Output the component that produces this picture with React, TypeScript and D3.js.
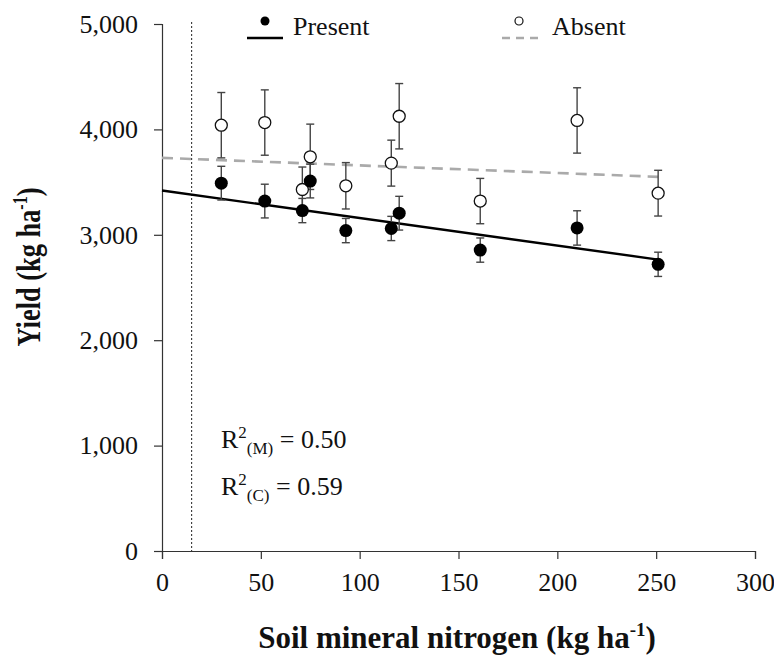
import React, { useRef, useEffect } from 'react';
import * as d3 from 'd3';

// soil mineral N (kg/ha) for each site
const nitrogen = [30, 52, 71, 75, 93, 116, 120, 161, 210, 251];

const presentYield = [3490, 3320, 3230, 3510, 3040, 3060, 3205, 2855, 3065, 2720];
const presentErr = [160, 160, 115, 160, 115, 115, 160, 115, 163, 115];

const absentYield = [4040, 4065, 3430, 3740, 3465, 3680, 4125, 3320, 4085, 3395];
const absentErr = [310, 310, 213, 310, 220, 218, 310, 215, 310, 217];

// fitted lines (end points)
const fitX = [0, 251];
const presentFit = [3420, 2765];
const absentFit = [3730, 3550];

const thresholdN = 15;

const xTicks = [0, 50, 100, 150, 200, 250, 300];
const yTicks = [0, 1000, 2000, 3000, 4000, 5000];

const FONT = '"Liberation Serif", "Times New Roman", serif';

const App = () => {
  const xAxisRef = useRef<SVGGElement>(null);
  const yAxisRef = useRef<SVGGElement>(null);

  const width = 774;
  const height = 655;
  const margin = { top: 24, right: 19, bottom: 104, left: 162 };

  const x = d3.scaleLinear()
    .domain([0, 300])
    .range([margin.left, width - margin.right]);

  const y = d3.scaleLinear()
    .domain([0, 5000])
    .range([height - margin.bottom, margin.top]);

  useEffect(() => {
    const xa = d3.select(xAxisRef.current);
    xa.selectAll('*').remove();
    xa.call(d3.axisBottom(x).tickValues(xTicks).tickSize(8).tickPadding(14).tickFormat(d3.format('d')) as any);
    xa.select('.domain').attr('stroke', '#333').attr('stroke-width', 1.2);
    xa.selectAll('.tick line').attr('stroke', '#333').attr('stroke-width', 1.2);
    xa.selectAll('.tick text')
      .attr('font-family', FONT).attr('font-size', 26).attr('fill', '#111');

    const ya = d3.select(yAxisRef.current);
    ya.selectAll('*').remove();
    ya.call(d3.axisLeft(y).tickValues(yTicks).tickSize(8).tickPadding(16).tickFormat(d3.format(',')) as any);
    ya.select('.domain').attr('stroke', '#333').attr('stroke-width', 1.2);
    ya.selectAll('.tick line').attr('stroke', '#333').attr('stroke-width', 1.2);
    ya.selectAll('.tick text')
      .attr('font-family', FONT).attr('font-size', 26).attr('fill', '#111');
  }, []);

  const line = d3.line<number>()
    .x((_, i) => x(fitX[i]));

  const errorBars = (vals: number[], errs: number[], color: string) =>
    nitrogen.map((n, i) => {
      const cx = x(n);
      const top = y(vals[i] + errs[i]);
      const bot = y(vals[i] - errs[i]);
      return (
        <g key={i} stroke={color} strokeWidth={1.4}>
          <line x1={cx} x2={cx} y1={top} y2={bot} />
          <line x1={cx - 4} x2={cx + 4} y1={top} y2={top} />
          <line x1={cx - 4} x2={cx + 4} y1={bot} y2={bot} />
        </g>
      );
    });

  return (
    <svg width={width} height={height} style={{ position: 'absolute', left: 0, top: 0, background: '#fff' }}>
      {/* threshold */}
      <line x1={x(thresholdN)} x2={x(thresholdN)} y1={y(5000) - 2} y2={y(0)}
        stroke="#222" strokeWidth={1} strokeDasharray="2,2" />

      <g ref={xAxisRef} transform={`translate(0,${height - margin.bottom})`} />
      <g ref={yAxisRef} transform={`translate(${margin.left},0)`} />

      {/* fitted lines */}
      <path d={line.y(d => y(d))(absentFit) || ''} fill="none" stroke="#aaa" strokeWidth={2.6} strokeDasharray="11,7" />
      <path d={line.y(d => y(d))(presentFit) || ''} fill="none" stroke="#000" strokeWidth={2.4} />

      {errorBars(absentYield, absentErr, '#444')}
      {errorBars(presentYield, presentErr, '#444')}

      {nitrogen.map((n, i) => (
        <circle key={'a' + i} cx={x(n)} cy={y(absentYield[i])} r={6} fill="#fff" stroke="#111" strokeWidth={1.3} />
      ))}
      {nitrogen.map((n, i) => (
        <circle key={'p' + i} cx={x(n)} cy={y(presentYield[i])} r={6.5} fill="#000" />
      ))}

      {/* legend */}
      <g fontFamily={FONT} fontSize={26} fill="#111">
        <circle cx={265} cy={21} r={4.5} fill="#000" />
        <line x1={247} x2={283} y1={38} y2={38} stroke="#000" strokeWidth={2.4} />
        <text x={293} y={35}>Present</text>
        <circle cx={519} cy={21} r={4} fill="#fff" stroke="#111" strokeWidth={1.2} />
        <line x1={502} x2={539} y1={38} y2={38} stroke="#aaa" strokeWidth={2.6} strokeDasharray="8,6" />
        <text x={552} y={35}>Absent</text>
      </g>

      {/* R2 annotations */}
      <g fontFamily={FONT} fontSize={26} fill="#111">
        <text x={221} y={448}>
          R<tspan dy={-10} fontSize={17}>2</tspan>
          <tspan dy={16} fontSize={17}>(M)</tspan>
          <tspan dy={-6}> = 0.50</tspan>
        </text>
        <text x={221} y={495}>
          R<tspan dy={-10} fontSize={17}>2</tspan>
          <tspan dy={16} fontSize={17}>(C)</tspan>
          <tspan dy={-6}> = 0.59</tspan>
        </text>
      </g>

      {/* axis titles */}
      <text x={457} y={648} textAnchor="middle" fontFamily={FONT} fontSize={31} fontWeight="bold" fill="#111">
        Soil mineral nitrogen (kg ha<tspan dy={-12} fontSize={19}>-1</tspan><tspan dy={12}>)</tspan>
      </text>
      <text transform="translate(40,267) rotate(-90) scale(0.8,1)" textAnchor="middle" fontFamily={FONT} fontSize={33} fontWeight="bold" fill="#111">
        Yield (kg ha<tspan dy={-13} fontSize={20}>-1</tspan><tspan dy={13}>)</tspan>
      </text>
    </svg>
  );
};

export default App;
